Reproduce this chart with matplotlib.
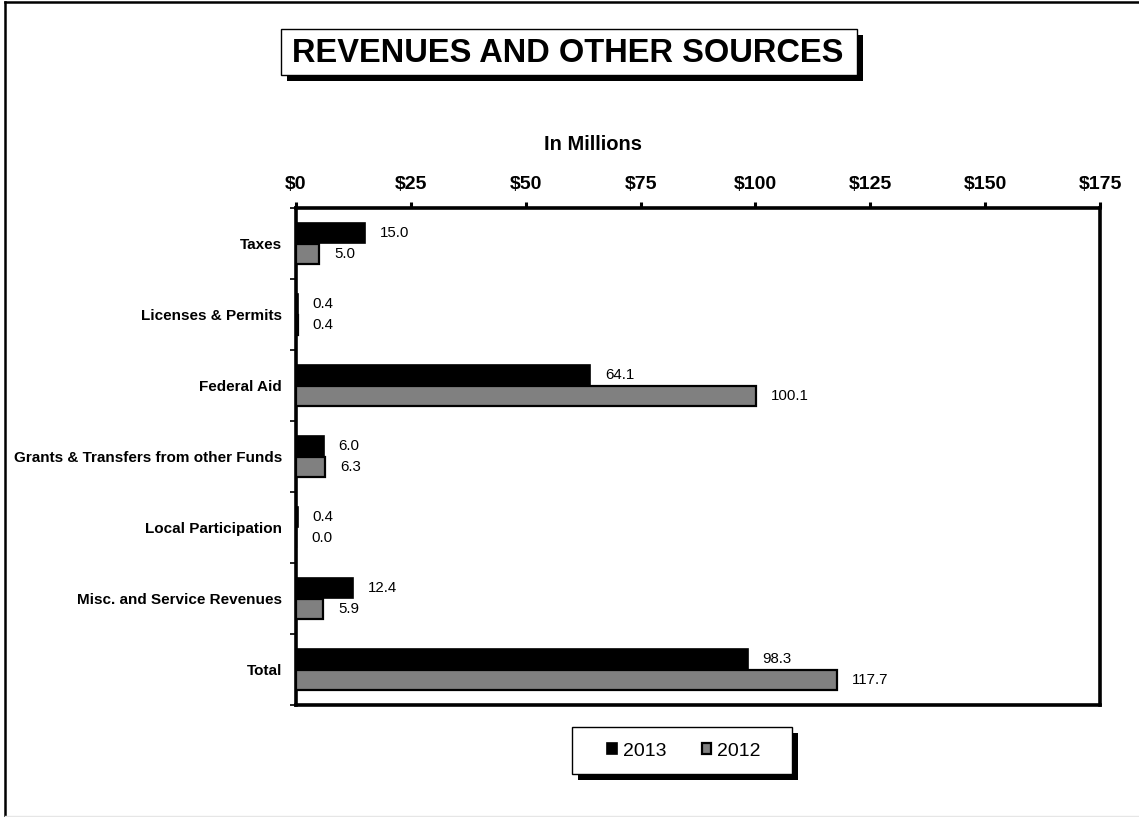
import matplotlib
matplotlib.use("Agg")
import matplotlib.pyplot as plt
from matplotlib.patches import Rectangle
from matplotlib.lines import Line2D
import numpy as np

plt.rcParams['font.family'] = ['Liberation Sans', 'DejaVu Sans']

# Data (in millions)
categories = ["Taxes", "Licenses & Permits", "Federal Aid",
              "Grants & Transfers from other Funds", "Local Participation",
              "Misc. and Service Revenues", "Total"]
values_2013 = [15.0, 0.4, 64.1, 6.0, 0.4, 12.4, 98.3]
values_2012 = [5.0, 0.4, 100.1, 6.3, 0.0, 5.9, 117.7]
series_labels = ["2013", "2012"]
x_ticks = [0, 25, 50, 75, 100, 125, 150, 175]
x_tick_labels = ["$0", "$25", "$50", "$75", "$100", "$125", "$150", "$175"]

W, H = 1139, 817
fig = plt.figure(figsize=(W / 100, H / 100), dpi=100)
fig.patch.set_facecolor("white")


def fig_rect(x0, y0, x1, y1):
    """Pixel box (top-left origin) -> figure-fraction rectangle."""
    return (x0 / W, 1 - y1 / H, (x1 - x0) / W, (y1 - y0) / H)


def boxed_panel(x0, y0, x1, y1, shadow=6):
    sx, sy, sw, sh = fig_rect(x0 + shadow, y0 + shadow, x1 + shadow, y1 + shadow)
    fig.patches.append(Rectangle((sx, sy), sw, sh, transform=fig.transFigure,
                                 facecolor="black", edgecolor="none", zorder=1))
    bx, by, bw, bh_ = fig_rect(x0, y0, x1, y1)
    fig.patches.append(Rectangle((bx, by), bw, bh_, transform=fig.transFigure,
                                 facecolor="white", edgecolor="black", linewidth=1.0,
                                 zorder=2))


# Plot area
ax_l, ax_r, ax_t, ax_b = 296, 1100, 208, 705
ax = fig.add_axes([ax_l / W, 1 - ax_b / H, (ax_r - ax_l) / W, (ax_b - ax_t) / H])

y = np.arange(len(categories))
bh = 0.28
off = 0.152
ax.barh(y - off, values_2013, height=bh, color="black", edgecolor="black",
        linewidth=1.2, label=series_labels[0], zorder=3)
ax.barh(y + off, values_2012, height=bh, color="#808080", edgecolor="black",
        linewidth=1.6, label=series_labels[1], zorder=3)

for yi, v in zip(y - off, values_2013):
    ax.annotate(f"{v:.1f}", (v, yi), xytext=(10.8, 0), textcoords="offset points",
                va="center", ha="left", fontsize=10.8)
for yi, v in zip(y + off, values_2012):
    ax.annotate(f"{v:.1f}", (v, yi), xytext=(10.8, 0), textcoords="offset points",
                va="center", ha="left", fontsize=10.8)

ax.set_xlim(0, 175)
ax.set_ylim(len(categories) - 0.5, -0.5)

ax.xaxis.tick_top()
ax.set_xticks(x_ticks)
ax.set_xticklabels(x_tick_labels, fontsize=14, fontweight="bold")
ax.tick_params(axis="x", direction="out", length=4, width=2.2, pad=7)

ax.set_yticks(np.arange(len(categories) + 1) - 0.5)
ax.set_yticklabels([])
ax.set_yticks(y, minor=True)
ax.set_yticklabels(categories, minor=True, fontsize=11, fontweight="bold")
ax.tick_params(axis="y", which="major", direction="out", length=4, width=1.2)
ax.tick_params(axis="y", which="minor", length=0, pad=10)

for s in ax.spines.values():
    s.set_linewidth(2.6)
    s.set_color("black")

fig.text(593 / W, 1 - 144 / H, "In Millions", ha="center", va="center",
         fontsize=14.5, fontweight="bold")

# Title in a shadowed box
boxed_panel(281, 29, 857, 75)
fig.text(568 / W, 1 - 54 / H, "REVENUES AND OTHER SOURCES", ha="center",
         va="center", fontsize=23.5, fontweight="bold", zorder=5)

# Legend in a shadowed box
boxed_panel(572, 727, 792, 774)
handles = [Rectangle((0, 0), 1, 1, facecolor="black", edgecolor="black", linewidth=1.2),
           Rectangle((0, 0), 1, 1, facecolor="#808080", edgecolor="black", linewidth=1.6)]
leg = fig.legend(handles, series_labels, loc="center",
                 bbox_to_anchor=(684 / W, 1 - 751 / H),
                 ncol=2, frameon=False, fontsize=14,
                 handlelength=0.5, handleheight=0.5, handletextpad=0.3,
                 columnspacing=1.8, borderpad=0.0)
leg.set_zorder(5)

# Page border
fig.add_artist(Line2D([5 / W, 5 / W], [0, 1 - 2 / H], transform=fig.transFigure,
                      color="black", linewidth=1.8))
fig.add_artist(Line2D([5 / W, 1], [1 - 2 / H, 1 - 2 / H], transform=fig.transFigure,
                      color="black", linewidth=1.8))
fig.add_artist(Line2D([5 / W, 1], [1 - 816 / H, 1 - 816 / H], transform=fig.transFigure,
                      color="#e6e6e6", linewidth=1.0))

fig.savefig("out.png", dpi=100)
